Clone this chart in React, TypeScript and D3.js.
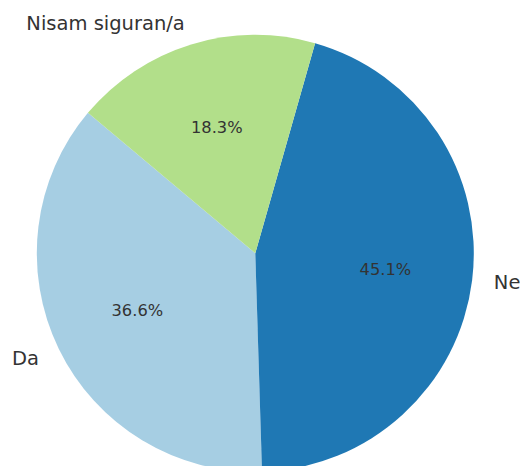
import { useEffect, useRef } from "react";
import * as d3 from "d3";

const categories = ["Da", "Ne", "Nisam siguran/a"];
const shares = [36.6, 45.1, 18.3];
const colors = ["#a6cee3", "#1f78b4", "#b2df8a"];

const WIDTH = 520;
const HEIGHT = 466;

export default function App() {
  const svgRef = useRef<SVGSVGElement>(null);

  useEffect(() => {
    if (!svgRef.current) return;

    const svg = d3.select(svgRef.current);
    svg.selectAll("*").remove();

    const cx = 255.3;
    const cy = 253.3;
    const r = 218.5;
    // matplotlib startangle=140, counterclockwise; d3 measures clockwise from 12 o'clock
    const start = ((90 - 140) * Math.PI) / 180;

    const pie = d3
      .pie<number>()
      .sort(null)
      .value((d) => d)
      .startAngle(start)
      .endAngle(start - 2 * Math.PI);

    const arcs = pie(shares);
    const arc = d3.arc<d3.PieArcDatum<number>>().innerRadius(0).outerRadius(r);
    const pctArc = d3.arc<d3.PieArcDatum<number>>().innerRadius(r * 0.6).outerRadius(r * 0.6);
    const labelArc = d3.arc<d3.PieArcDatum<number>>().innerRadius(r * 1.1).outerRadius(r * 1.1);

    const g = svg.append("g").attr("transform", `translate(${cx},${cy})`);

    g.selectAll("path")
      .data(arcs)
      .join("path")
      .attr("d", arc)
      .attr("fill", (_, i) => colors[i]);

    g.append("g")
      .selectAll("text")
      .data(arcs)
      .join("text")
      .attr("transform", (d) => `translate(${pctArc.centroid(d)})`)
      .attr("text-anchor", "middle")
      .attr("dominant-baseline", "central")
      .attr("font-family", "DejaVu Sans")
      .attr("font-size", 16.25)
      .attr("fill", "#333333")
      .text((d) => `${d.data.toFixed(1)}%`);

    g.append("g")
      .selectAll("text")
      .data(arcs)
      .join("text")
      .attr("transform", (d) => `translate(${labelArc.centroid(d)})`)
      .attr("text-anchor", (d) => (labelArc.centroid(d)[0] >= 0 ? "start" : "end"))
      .attr("dominant-baseline", "central")
      .attr("font-family", "DejaVu Sans")
      .attr("font-size", 19.5)
      .attr("fill", "#333333")
      .text((_, i) => categories[i]);
  }, []);

  return (
    <div style={{ position: "fixed", left: 0, top: 0, width: WIDTH, height: HEIGHT, background: "#fff" }}>
      <svg ref={svgRef} width={WIDTH} height={HEIGHT} />
    </div>
  );
}
